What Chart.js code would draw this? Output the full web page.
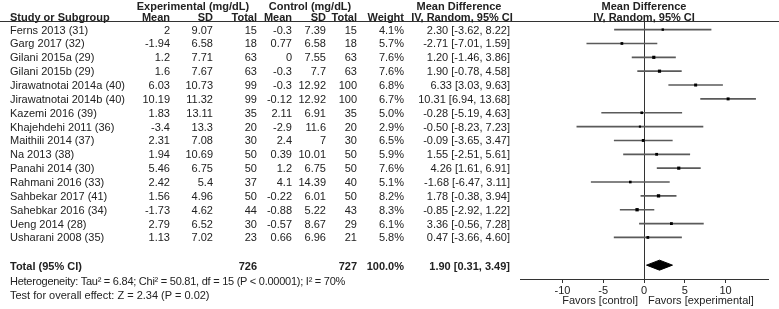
<!DOCTYPE html>
<html>
<head>
<meta charset="utf-8">
<script src="https://cdn.jsdelivr.net/npm/chart.js@4.4.0/dist/chart.umd.min.js"></script>
<style>
  body { margin: 0; background: #fff; }
  #wrap { position: relative; width: 779px; height: 309px; overflow: hidden; }
  #plot { position: absolute; left: 0; top: 0; }
  .t { position: absolute; height: 14px; line-height: 14px; white-space: nowrap;
       font-family: "Liberation Sans", Arial, sans-serif; font-size: 11px; color: #222; }
  .b { font-weight: bold; }
</style>
</head>
<body>
<div id="wrap">
  <canvas id="plot" width="779" height="309"></canvas>
</div>
<script>
const studies = ["Ferns 2013 (31)", "Garg 2017 (32)", "Gilani 2015a (29)", "Gilani 2015b (29)",
  "Jirawatnotai 2014a (40)", "Jirawatnotai 2014b (40)", "Kazemi 2016 (39)", "Khajehdehi 2011 (36)",
  "Maithili 2014 (37)", "Na 2013 (38)", "Panahi 2014 (30)", "Rahmani 2016 (33)",
  "Sahbekar 2017 (41)", "Sahebkar 2016 (34)", "Ueng 2014 (28)", "Usharani 2008 (35)"];
const expMean = [2, -1.94, 1.2, 1.6, 6.03, 10.19, 1.83, -3.4, 2.31, 1.94, 5.46, 2.42, 1.56, -1.73, 2.79, 1.13];
const expSD = [9.07, 6.58, 7.71, 7.67, 10.73, 11.32, 13.11, 13.3, 7.08, 10.69, 6.75, 5.4, 4.96, 4.62, 6.52, 7.02];
const expN = [15, 18, 63, 63, 99, 99, 35, 20, 30, 50, 50, 37, 50, 44, 30, 23];
const ctlMean = [-0.3, 0.77, 0, -0.3, -0.3, -0.12, 2.11, -2.9, 2.4, 0.39, 1.2, 4.1, -0.22, -0.88, -0.57, 0.66];
const ctlSD = [7.39, 6.58, 7.55, 7.7, 12.92, 12.92, 6.91, 11.6, 7, 10.01, 6.75, 14.39, 6.01, 5.22, 8.67, 6.96];
const ctlN = [15, 18, 63, 63, 100, 100, 35, 20, 30, 50, 50, 40, 50, 43, 29, 21];
const weight = [4.1, 5.7, 7.6, 7.6, 6.8, 6.7, 5.0, 2.9, 6.5, 5.9, 7.6, 5.1, 8.2, 8.3, 6.1, 5.8];
const md = [2.30, -2.71, 1.20, 1.90, 6.33, 10.31, -0.28, -0.50, -0.09, 1.55, 4.26, -1.68, 1.78, -0.85, 3.36, 0.47];
const ciLow = [-3.62, -7.01, -1.46, -0.78, 3.03, 6.94, -5.19, -8.23, -3.65, -2.51, 1.61, -6.47, -0.38, -2.92, -0.56, -3.66];
const ciHigh = [8.22, 1.59, 3.86, 4.58, 9.63, 13.68, 4.63, 7.23, 3.47, 5.61, 6.91, 3.11, 3.94, 1.22, 7.28, 4.60];
const total = { expN: 726, ctlN: 727, weight: "100.0%", md: 1.90, low: 0.31, high: 3.49 };
const xTicks = [-10, -5, 0, 5, 10];
const hetText = "Heterogeneity: Tau\u00b2 = 6.84; Chi\u00b2 = 50.81, df = 15 (P < 0.00001); I\u00b2 = 70%";
const testText = "Test for overall effect: Z = 2.34 (P = 0.02)";

const FONT = "'Liberation Sans', Arial, sans-serif";
const TOTAL_ROW = studies.length + 1;
const wrap = document.getElementById("wrap");

// header underline across table and plot
const topRule = {
  id: "topRule",
  afterDraw(chart) {
    const c = chart.ctx;
    c.save();
    c.strokeStyle = "#333";
    c.lineWidth = 1;
    c.beginPath();
    c.moveTo(0, chart.chartArea.top - 0.5);
    c.lineTo(chart.width, chart.chartArea.top - 0.5);
    c.stroke();
    c.restore();
  },
};

const chart = new Chart(document.getElementById("plot"), {
  type: "scatter",
  data: {
    datasets: [
      {
        type: "scatter",
        data: md.map((v, i) => ({ x: v, y: i })),
        pointStyle: "rect",
        pointRadius: weight.map((w) => (1.5 + 0.22 * w) / Math.SQRT2),
        backgroundColor: "#000",
        borderWidth: 0,
      },
      {
        type: "scatter",
        showLine: true,
        fill: "shape",
        data: [
          { x: total.low, y: TOTAL_ROW },
          { x: total.md, y: TOTAL_ROW - 0.36 },
          { x: total.high, y: TOTAL_ROW },
          { x: total.md, y: TOTAL_ROW + 0.36 },
          { x: total.low, y: TOTAL_ROW },
        ],
        borderColor: "#000",
        backgroundColor: "#000",
        borderWidth: 1,
        pointRadius: 0,
        tension: 0,
      },
      {
        type: "bar",
        indexAxis: "y",
        grouped: false,
        data: studies.map((s, i) => ({ x: [ciLow[i], ciHigh[i]], y: i })),
        backgroundColor: "#5a5a5a",
        barThickness: 1,
      },
    ],
  },
  options: {
    responsive: false,
    animation: false,
    events: [],
    layout: { padding: { left: 520, right: 11, top: 22, bottom: 0 } },
    plugins: { legend: { display: false }, tooltip: { enabled: false } },
    scales: {
      x: {
        type: "linear",
        min: -15.2,
        max: 15.2,
        offset: false,
        afterBuildTicks: (s) => { s.ticks = xTicks.map((v) => ({ value: v })); },
        afterFit: (s) => { s.height = 30; },
        grid: {
          offset: false,
          color: (c) => (c.tick && c.tick.value === 0 ? "#333" : "rgba(0,0,0,0)"),
          tickColor: "#333",
          tickLength: 4,
        },
        border: { color: "#333", width: 1 },
        ticks: { font: { family: FONT, size: 11 }, color: "#222", padding: 1, maxRotation: 0 },
      },
      y: { type: "linear", min: -0.55, max: 18, reverse: true, offset: false, grid: { offset: false }, display: false },
    },
  },
  plugins: [topRule],
});

function put(text, x, y, align, bold, spacing) {
  const d = document.createElement("div");
  d.className = "t" + (bold ? " b" : "");
  d.textContent = text;
  d.style.top = (y - 7) + "px";
  if (spacing) d.style.letterSpacing = spacing;
  if (align === "right") d.style.right = (779 - x) + "px";
  else if (align === "center") { d.style.left = x + "px"; d.style.transform = "translateX(-50%)"; }
  else d.style.left = x + "px";
  wrap.appendChild(d);
}

const ys = chart.scales.y;
const xs = chart.scales.x;
const f2 = (v) => v.toFixed(2);

// headers
const h1 = ys.getPixelForValue(-1.7), h2 = ys.getPixelForValue(-0.9);
put("Experimental (mg/dL)", 193, h1, "center", true);
put("Control (mg/dL)", 310, h1, "center", true);
put("Mean Difference", 459, h1, "center", true);
put("Mean Difference", xs.getPixelForValue(0), h1, "center", true);
put("Study or Subgroup", 10, h2, "left", true);
put("Mean", 170, h2, "right", true);
put("SD", 213, h2, "right", true);
put("Total", 257, h2, "right", true);
put("Mean", 292, h2, "right", true);
put("SD", 326, h2, "right", true);
put("Total", 357, h2, "right", true);
put("Weight", 404, h2, "right", true);
put("IV, Random, 95% CI", 462, h2, "center", true);
put("IV, Random, 95% CI", xs.getPixelForValue(0), h2, "center", true);

// study rows
studies.forEach((s, i) => {
  const y = ys.getPixelForValue(i);
  put(s, 10, y, "left");
  put(String(expMean[i]), 170, y, "right");
  put(String(expSD[i]), 213, y, "right");
  put(String(expN[i]), 257, y, "right");
  put(String(ctlMean[i]), 292, y, "right");
  put(String(ctlSD[i]), 326, y, "right");
  put(String(ctlN[i]), 357, y, "right");
  put(weight[i].toFixed(1) + "%", 404, y, "right");
  put(f2(md[i]) + " [" + f2(ciLow[i]) + ", " + f2(ciHigh[i]) + "]", 510, y, "right");
});

// total and footer
const ty = ys.getPixelForValue(TOTAL_ROW) + 1;
put("Total (95% CI)", 10, ty, "left", true);
put(String(total.expN), 257, ty, "right", true);
put(String(total.ctlN), 357, ty, "right", true);
put(total.weight, 404, ty, "right", true);
put(f2(total.md) + " [" + f2(total.low) + ", " + f2(total.high) + "]", 510, ty, "right", true);
put(hetText, 10, ys.getPixelForValue(18.15), "left", false, "-0.25px");
put(testText, 10, ys.getPixelForValue(19.15), "left");

// axis captions either side of zero
const zx = xs.getPixelForValue(0);
put("Favors [control]", zx - 6, 300, "right");
put("Favors [experimental]", zx + 4, 300, "left");
</script>
</body>
</html>
